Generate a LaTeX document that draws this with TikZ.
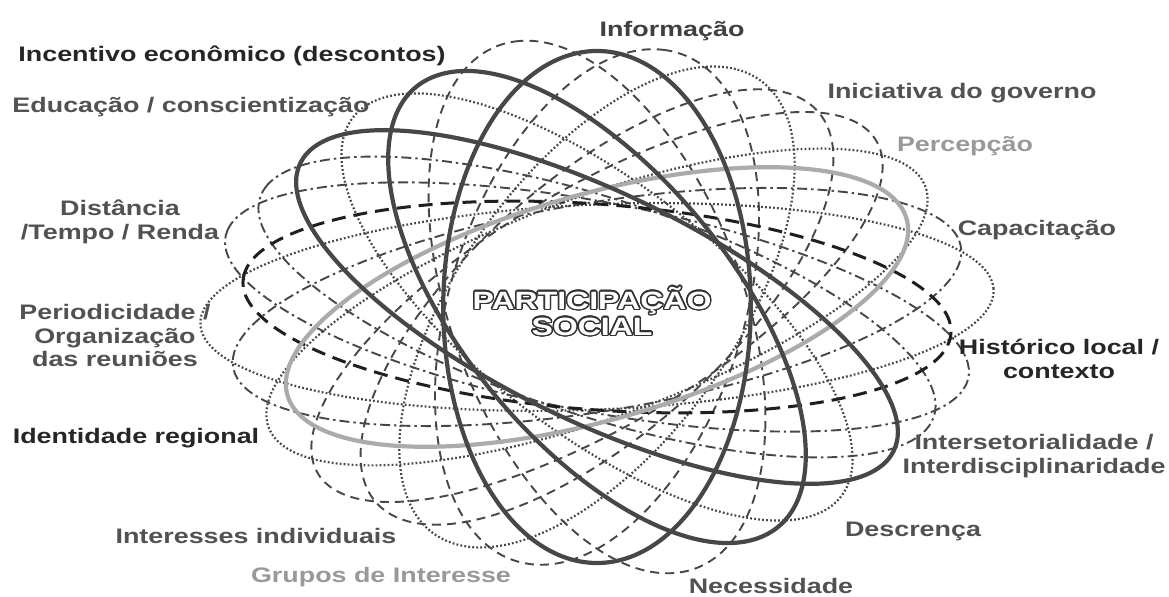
\documentclass[tikz,border=0pt]{standalone}
\usepackage{fontspec}
\setmainfont{Liberation Sans}[FakeStretch=1.28]
\usepackage{contour}
\contourlength{0.7pt}
\contournumber{24}
\tikzset{
  darkell/.style={draw=black!72, line width=2.1pt},
  grayell/.style={draw=black!33, line width=2.1pt},
  bolddash/.style={draw=black!88, line width=1.5pt, dash pattern=on 7pt off 4pt},
  thindash/.style={draw=black!72, line width=0.95pt, dash pattern=on 4.5pt off 3pt},
  dotline/.style={draw=black!72, line width=1.1pt, dash pattern=on 0.9pt off 1.1pt},
  dashdot/.style={draw=black!72, line width=0.95pt, dash pattern=on 5pt off 2pt on 1.2pt off 2pt},
  lbl/.style={font=\fontsize{10.5}{11.75}\selectfont\bfseries, text=black!68, inner sep=0pt, align=center},
  centrolbl/.style={font=\fontsize{12.5}{13}\selectfont\bfseries, inner sep=0pt, align=center}
}
\begin{document}
\begin{tikzpicture}[x=0.5pt, y=-0.5pt]
\useasboundingbox[fill=white] (0,0) rectangle (1169,597);

% rosette of ellipses
\begin{scope}[shift={(597,307)}, xscale=375, yscale=256]
  \draw[thindash, rotate=102] (0,0) ellipse [x radius=1.06, y radius=0.40];
  \draw[dotline,  rotate=127] (0,0) ellipse [x radius=1.00, y radius=0.40];
  \draw[dashdot,  rotate=152] (0,0) ellipse [x radius=1.00, y radius=0.40];
  \draw[dashdot,  rotate=163] (0,0) ellipse [x radius=1.03, y radius=0.40];
  \draw[dotline,  rotate=4]   (0,0) ellipse [x radius=1.06, y radius=0.40];
  \draw[dashdot,  rotate=15]  (0,0) ellipse [x radius=1.00, y radius=0.40];
  \draw[dotline,  rotate=31]  (0,0) ellipse [x radius=1.00, y radius=0.40];
  \draw[thindash, rotate=45]  (0,0) ellipse [x radius=1.00, y radius=0.40];
  \draw[thindash, rotate=57]  (0,0) ellipse [x radius=0.98, y radius=0.40];
  \draw[dotline,  rotate=68]  (0,0) ellipse [x radius=1.00, y radius=0.40];
  \draw[thindash, rotate=80]  (0,0) ellipse [x radius=1.02, y radius=0.40];
  \draw[bolddash, rotate=173] (0,0) ellipse [x radius=0.95, y radius=0.40];
  \draw[grayell,  rotate=26]  (0,0) ellipse [x radius=0.90, y radius=0.42];
  \draw[darkell,  rotate=90]  (0,0) ellipse [x radius=1.00, y radius=0.41];
  \draw[darkell,  rotate=115] (0,0) ellipse [x radius=1.00, y radius=0.40];
  \draw[darkell,  rotate=141] (0,0) ellipse [x radius=0.98, y radius=0.40];
\end{scope}

% centre
\node[centrolbl] (centro) at (592,312)
  {\contour{black!80}{\textcolor{white}{PARTICIPAÇÃO}}\\\contour{black!80}{\textcolor{white}{SOCIAL}}};

% labels
\node[lbl, text=black!85, anchor=base] (incentivo) at (232,62) {Incentivo econômico (descontos)};
\node[lbl, anchor=base] (educacao) at (191,113) {Educação / conscientização};
\node[lbl] (distancia) at (120,222) {Distância\\/Tempo / Renda};
\node[lbl] (periodicidade) at (115,336) {Periodicidade /\\Organização\\das reuniões};
\node[lbl, text=black!85, anchor=base] (identidade) at (136,444) {Identidade regional};
\node[lbl, anchor=base] (interesses) at (256,544) {Interesses individuais};
\node[lbl, text=black!40, anchor=base] (grupos) at (381,583) {Grupos de Interesse};
\node[lbl, anchor=base] (necessidade) at (771,594) {Necessidade};
\node[lbl, anchor=base] (descrenca) at (913,537) {Descrença};
\node[lbl] (intersetorialidade) at (1034,456) {Intersetorialidade /\\Interdisciplinaridade};
\node[lbl, text=black!85] (historico) at (1059,359) {Histórico local /\\contexto};
\node[lbl, anchor=base] (capacitacao) at (1037,236) {Capacitação};
\node[lbl, text=black!40, anchor=base] (percepcao) at (965,152) {Percepção};
\node[lbl, anchor=base] (iniciativa) at (962,99) {Iniciativa do governo};
\node[lbl, text=black!75, anchor=base] (informacao) at (672,37) {Informação};
\end{tikzpicture}
\end{document}
